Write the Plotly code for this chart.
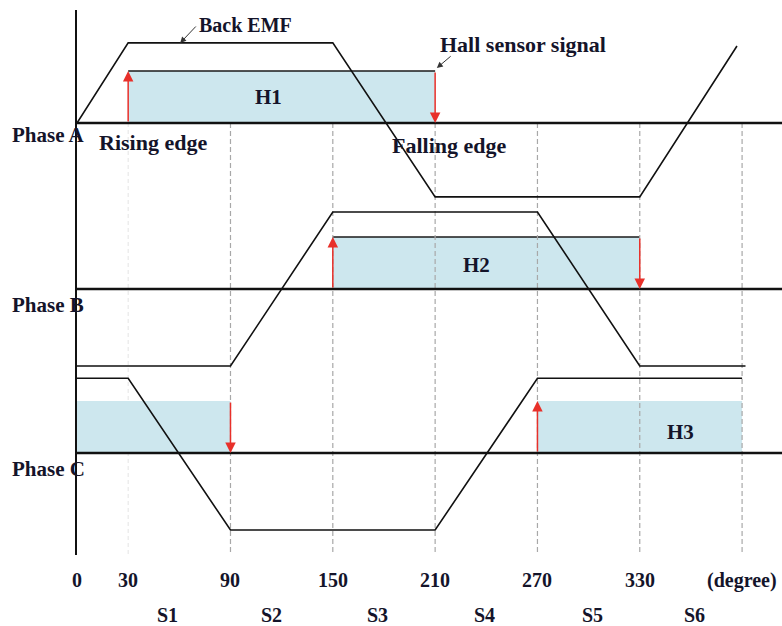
import plotly.graph_objects as go

# ---------------- data ----------------
# Back-EMF breakpoints (degree) and normalised level (+1 high, -1 low)
deg_A = [0, 30, 150, 210, 330, 387]
emf_A = [0, 1.04, 1.04, -0.96, -0.96, 1.0]
deg_B = [0, 90, 150, 270, 330, 392]
emf_B = [-1, -1, 1, 1, -1, -1]
deg_C = [0, 30, 90, 210, 270, 390]
emf_C = [0.97, 0.97, -1, -1, 0.97, 0.97]

# Hall sensor signal: on / off edges (degree)
hall_on_A, hall_off_A = [30], [210]
hall_on_B, hall_off_B = [150], [330]
hall_on_C, hall_off_C = [0, 270], [90, 390]

tick_vals = [0, 30, 90, 150, 210, 270, 330, 390]
tick_text = ["0", "30", "90", "150", "210", "270", "330", "(degree)"]
grid_deg = [90, 150, 210, 270, 330, 390]
sector_names = ["S1", "S2", "S3", "S4", "S5", "S6"]
sector_pos = [53, 114, 176, 239, 302, 362]

# ---------------- layout constants ----------------
BASE = {"A": 123, "B": 289, "C": 453}
AMP = 77
HALL_H = 52
XMAX = 413.4
Y_TOP, Y_BOT = 10, 555
FONT = "Liberation Serif"
TXT = "#14142a"
FILL = "#cde7ee"
RED = "#e8302a"

fig = go.Figure()

# faint line at 30 and dashed grid lines
fig.add_trace(go.Scatter(x=[30, 30], y=[123, Y_BOT], mode="lines",
                         line=dict(color="#e4e4e4", width=1, dash="4px,3px"),
                         hoverinfo="skip"))

phases = [
    ("A", deg_A, emf_A, hall_on_A, hall_off_A, True),
    ("B", deg_B, emf_B, hall_on_B, hall_off_B, True),
    ("C", deg_C, emf_C, hall_on_C, hall_off_C, False),
]

for name, dg, emf, on, off, top in phases:
    b = BASE[name]
    for a, z in zip(on, off):
        fig.add_trace(go.Scatter(x=[a, a, z, z, a], y=[b, b - HALL_H, b - HALL_H, b, b],
                                 mode="lines", fill="toself", fillcolor=FILL,
                                 line=dict(width=0), hoverinfo="skip"))
        if top:
            fig.add_trace(go.Scatter(x=[a, z], y=[b - HALL_H, b - HALL_H], mode="lines",
                                     line=dict(color="#1a1a1a", width=1.6), hoverinfo="skip"))

for d in grid_deg:
    fig.add_trace(go.Scatter(x=[d, d], y=[123, Y_BOT], mode="lines",
                             line=dict(color="#a8a8a8", width=1.2, dash="5px,3px"),
                             hoverinfo="skip"))

for name, dg, emf, on, off, top in phases:
    b = BASE[name]
    fig.add_trace(go.Scatter(x=[0, XMAX], y=[b, b], mode="lines",
                             line=dict(color="#111", width=2.4), hoverinfo="skip"))
    fig.add_trace(go.Scatter(x=dg, y=[b - AMP * v for v in emf], mode="lines",
                             line=dict(color="#111", width=1.6), hoverinfo="skip"))

annotations = []
# red hall edge arrows
for name, dg, emf, on, off, top in phases:
    b = BASE[name]
    for a in on:
        if a > 0:
            annotations.append(dict(x=a, y=b - HALL_H, ax=a, ay=b, xref="x", yref="y",
                                    axref="x", ayref="y", text="", showarrow=True,
                                    arrowhead=2, arrowsize=1.4, arrowwidth=1.5, arrowcolor=RED))
    for z in off:
        if z < 390:
            annotations.append(dict(x=z, y=b, ax=z, ay=b - HALL_H, xref="x", yref="y",
                                    axref="x", ayref="y", text="", showarrow=True,
                                    arrowhead=2, arrowsize=1.4, arrowwidth=1.5, arrowcolor=RED))

# black pointer arrows
annotations.append(dict(x=60.5, y=43, ax=70.5, ay=25, xref="x", yref="y", axref="x", ayref="y",
                        text="", showarrow=True, arrowhead=2, arrowsize=1.2, arrowwidth=1,
                        arrowcolor="#333"))
annotations.append(dict(x=211, y=68, ax=220, ay=55, xref="x", yref="y", axref="x", ayref="y",
                        text="", showarrow=True, arrowhead=2, arrowsize=1.2, arrowwidth=1,
                        arrowcolor="#333"))

PLOT_W = 705.0
PLOT_H = float(Y_BOT - Y_TOP)


def label(text, x, y, size=20, x_paper=False):
    a = dict(text="<b>%s</b>" % text, showarrow=False,
             font=dict(family=FONT, size=size, color=TXT),
             xanchor="center", yanchor="middle")
    if x_paper:
        a.update(xref="paper", x=x)
    else:
        a.update(xref="x", x=x)
    if y > Y_BOT or y < Y_TOP:
        a.update(yref="paper", y=(Y_BOT - y) / PLOT_H)
    else:
        a.update(yref="y", y=y)
    annotations.append(a)


label("Back EMF", 99, 25, 20)
label("Hall sensor signal", 261.5, 44, 22)
label("H1", 112, 97, 21)
label("H2", 234.5, 265, 21)
label("H3", 354, 432, 21)
px_phase = (48 - 77) / PLOT_W
label("Phase A", px_phase, 135, 21, x_paper=True)
label("Phase B", px_phase, 305, 21, x_paper=True)
label("Phase C", px_phase, 469, 21, x_paper=True)
label("Rising edge", 44.5, 142, 22)
label("Falling edge", 218.5, 145, 22)
for t, v in zip(tick_text, tick_vals):
    label(t, v, 580, 20)
for s, p in zip(sector_names, sector_pos):
    label(s, p, 615, 20)

fig.update_layout(
    width=782, height=626,
    margin=dict(l=77, r=0, t=10, b=71),
    paper_bgcolor="white", plot_bgcolor="white",
    showlegend=False,
    annotations=annotations,
    xaxis=dict(range=[0, XMAX], showgrid=False, zeroline=False, showline=False,
               showticklabels=False, fixedrange=True),
    yaxis=dict(range=[Y_BOT, Y_TOP], showgrid=False, zeroline=False, showline=True,
               linecolor="#111", linewidth=2, showticklabels=False, fixedrange=True),
)

# remove the browser's default 8px page margin so the figure fills the window exactly
fig.write_html("out.html",
               config={"displayModeBar": False},
               post_script="document.body.style.margin='0';document.body.style.overflow='hidden';")
